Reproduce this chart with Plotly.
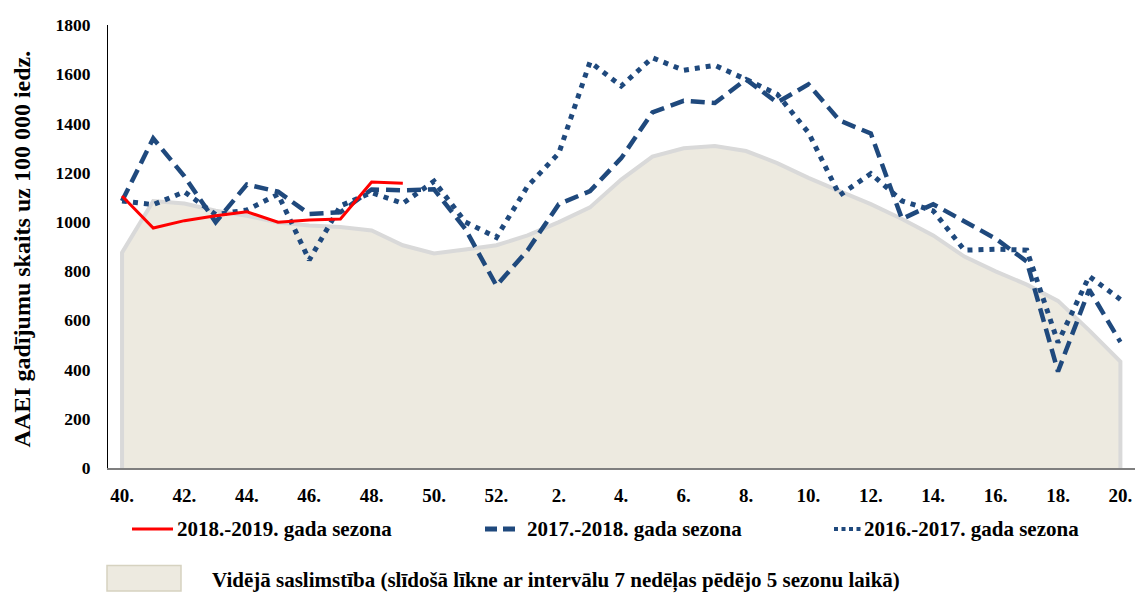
import plotly.graph_objects as go

weeks = [f"{w}." for w in range(40, 53)] + [f"{w}." for w in range(1, 21)]
tick_labels = weeks[::2]

season_2018_19 = [1105, 975, 1005, 1025, 1041, 999, 1008, 1012, 1161.6, 1157.4]
season_2017_18 = [1085, 1339, 1185, 999, 1152, 1123, 1032, 1039, 1132, 1128, 1132, 972, 741,
                  885, 1072, 1125, 1259, 1445, 1492, 1483, 1579, 1485, 1559, 1412, 1359, 1012,
                  1072, 1003, 932, 839, 392, 725, 512]
season_2016_17 = [1085, 1070, 1122, 1030, 1048, 1112, 845, 1065, 1119, 1075, 1165, 1000, 937,
                  1145, 1279, 1650, 1552, 1667, 1616, 1636, 1579, 1519, 1363, 1108, 1196, 1085,
                  1045, 885, 889, 885, 510, 779, 685]
average = [875, 1085, 1075, 1045, 1025, 997, 985, 979, 965, 905, 872, 888, 905,
           945, 999, 1059, 1172, 1265, 1299, 1308, 1288, 1239, 1179, 1125, 1072, 1012,
           945, 859, 799, 745, 679, 559, 432]

labels_red = ["1161,6", "1157,4"]

SERIF = "Liberation Serif"
BLUE = "#1F497D"

fig = go.Figure()

# average area (closed polygon down to zero on both ends)
fig.add_trace(go.Scatter(
    x=[weeks[0]] + weeks + [weeks[-1]],
    y=[0] + average + [0],
    mode="lines", fill="toself", fillcolor="#EDEAE0",
    line=dict(color="#D9D9D9", width=4), hoverinfo="skip", showlegend=False))

fig.add_trace(go.Scatter(x=weeks, y=season_2016_17, mode="lines",
                         line=dict(color=BLUE, width=5, dash="5px,6px"), showlegend=False))
fig.add_trace(go.Scatter(x=weeks, y=season_2017_18, mode="lines",
                         line=dict(color=BLUE, width=4.5, dash="14px,7px"), showlegend=False))
fig.add_trace(go.Scatter(x=weeks[:len(season_2018_19)], y=season_2018_19, mode="lines",
                         line=dict(color="#FF0000", width=3), showlegend=False))

# data labels
for idx, (txt, xs, ys) in enumerate(zip(labels_red, [-23, 0], [7, 10])):
    i = 8 + idx
    fig.add_annotation(x=weeks[i], y=season_2018_19[i], text=f"<b>{txt}</b>", showarrow=False,
                       xanchor="center", yanchor="bottom", xshift=xs, yshift=ys,
                       font=dict(family=SERIF, size=15, color="black"))

# plot-area edges in page pixels (page has 8px body margin)
OFF = 8
L, R, T, B = 108, 1136, 18, 468
W, H = 1143 - OFF, 595 - OFF

def px(x):
    return (x - L) / (R - L)

def py(y):
    return (B - y) / (B - T)

# y-axis title
fig.add_annotation(x=px(22), y=py(246), xref="paper", yref="paper",
                   text="<b>AAEI gadījumu skaits uz 100 000 iedz.</b>",
                   textangle=-90, showarrow=False, xanchor="center", yanchor="middle",
                   font=dict(family=SERIF, size=24, color="black"))

# manual legend
leg_font = dict(family=SERIF, size=21, color="black")
ly = 530
fig.add_shape(type="line", xref="paper", yref="paper", x0=px(132), x1=px(173), y0=py(ly), y1=py(ly),
              line=dict(color="#FF0000", width=3))
fig.add_annotation(x=px(175), y=py(ly), xref="paper", yref="paper", text="<b>2018.-2019. gada sezona</b>",
                   showarrow=False, xanchor="left", yanchor="middle", font=leg_font)
fig.add_shape(type="line", xref="paper", yref="paper", x0=px(485), x1=px(517), y0=py(ly), y1=py(ly),
              line=dict(color=BLUE, width=5, dash="12px,6px"))
fig.add_annotation(x=px(525), y=py(ly), xref="paper", yref="paper", text="<b>2017.-2018. gada sezona</b>",
                   showarrow=False, xanchor="left", yanchor="middle", font=leg_font)
fig.add_shape(type="line", xref="paper", yref="paper", x0=px(834), x1=px(862), y0=py(ly), y1=py(ly),
              line=dict(color=BLUE, width=4, dash="4px,3.5px"))
fig.add_annotation(x=px(862), y=py(ly), xref="paper", yref="paper", text="<b>2016.-2017. gada sezona</b>",
                   showarrow=False, xanchor="left", yanchor="middle", font=leg_font)
fig.add_shape(type="rect", xref="paper", yref="paper", x0=px(107), x1=px(181), y0=py(593), y1=py(567),
              fillcolor="#EDEAE0", line=dict(color="#D6D2C0", width=1.5))
fig.add_annotation(x=px(210), y=py(582), xref="paper", yref="paper",
                   text="<b>Vidējā saslimstība (slīdošā līkne ar intervālu 7 nedēļas pēdējo 5 sezonu laikā)</b>",
                   showarrow=False, xanchor="left", yanchor="middle", font=leg_font)

fig.update_layout(
    width=W, height=H,
    margin=dict(l=L - OFF, r=W - (R - OFF), t=T - OFF, b=H - (B - OFF), pad=0),
    paper_bgcolor="white", plot_bgcolor="white",
    showlegend=False,
    xaxis=dict(type="category", categoryorder="array", categoryarray=weeks,
               range=[-0.45, len(weeks) - 0.5],
               tickmode="array", tickvals=tick_labels, ticktext=tick_labels,
               tickfont=dict(family=SERIF, size=19, color="black", weight="bold"),
               showgrid=False, zeroline=False, showline=True, linecolor="#7F7F7F", linewidth=1.5,
               ticks="outside", ticklen=9, tickcolor="rgba(0,0,0,0)"),
    yaxis=dict(range=[0, 1800], tickmode="array", tickvals=list(range(0, 1801, 200)),
               tickfont=dict(family=SERIF, size=17.5, color="black", weight="bold"),
               showgrid=False, zeroline=False, showline=True, linecolor="black", linewidth=1,
               ticks="outside", ticklen=13, tickcolor="rgba(0,0,0,0)"),
)

fig.write_html("out.html")
